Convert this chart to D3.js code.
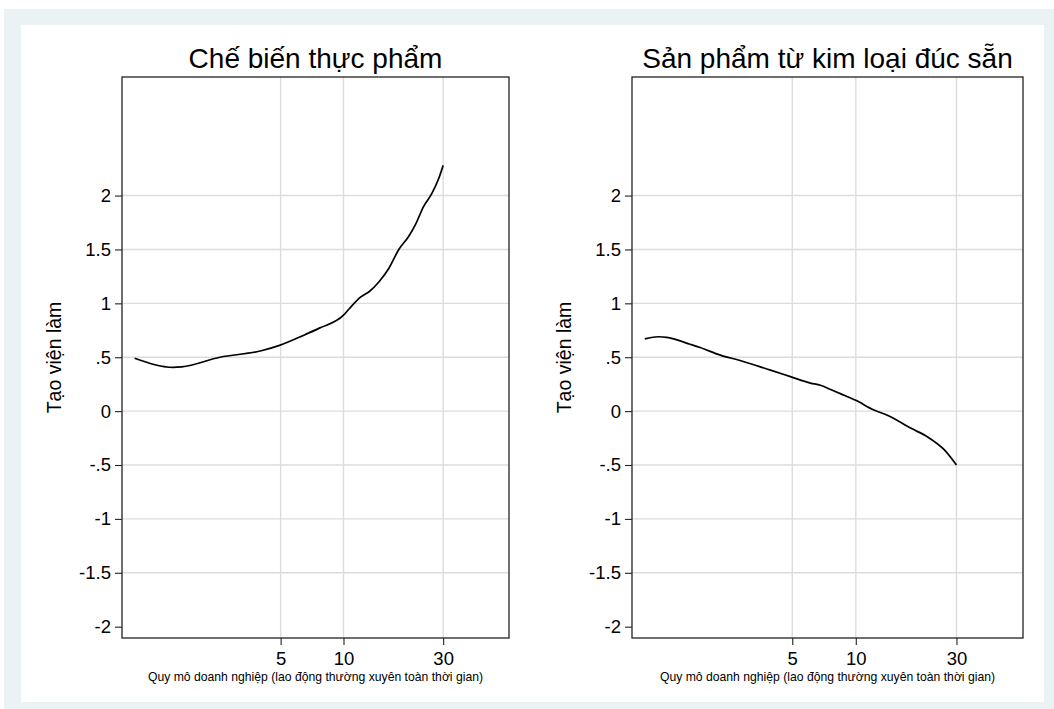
<!DOCTYPE html>
<html>
<head>
<meta charset="utf-8">
<script src="https://cdn.jsdelivr.net/npm/d3@7/dist/d3.min.js"></script>
<style>
  html, body { margin: 0; padding: 0; background: #ffffff; }
  svg { display: block; font-family: "Liberation Sans", Arial, sans-serif; }
</style>
</head>
<body>
<svg id="chart" width="1054" height="709"></svg>
<script>
// ---- Data ----
const panelTitles = ["Chế biến thực phẩm", "Sản phẩm từ kim loại đúc sẵn"];
const yTitle = "Tạo viện làm";
const xTitle = "Quy mô doanh nghiệp (lao động thường xuyên toàn thời gian)";
const yTickValues = [-2, -1.5, -1, -0.5, 0, 0.5, 1, 1.5, 2];
const yTickLabels = ["-2", "-1.5", "-1", "-.5", "0", ".5", "1", "1.5", "2"];
const xTickValues = [5, 10, 30];
const xTickLabels = ["5", "10", "30"];

// Panel 1: food processing
const foodSize  = [1, 1.53, 1.68, 2.56, 4.04, 4.94, 6.38, 7.66, 10, 10.6, 12.1, 13.3, 14.8, 16.5, 18.4, 20.5, 22.1, 24.2, 26.5, 28.6, 30];
const foodValue = [0.49, 0.406, 0.41, 0.50, 0.56, 0.61, 0.70, 0.77, 0.89, 0.945, 1.06, 1.11, 1.20, 1.325, 1.50, 1.62, 1.73, 1.90, 2.02, 2.16, 2.28];

// Panel 2: fabricated metal products
const metalSize  = [1, 1.16, 1.27, 1.64, 1.83, 2.28, 2.83, 3.94, 4.9, 6.1, 6.8, 7.6, 8.5, 10, 12.2, 14.2, 18.3, 21.9, 26.3, 30];
const metalValue = [0.67, 0.69, 0.685, 0.62, 0.59, 0.52, 0.47, 0.38, 0.32, 0.26, 0.24, 0.20, 0.16, 0.10, 0.01, -0.04, -0.16, -0.24, -0.36, -0.50];

const series = [
  { size: foodSize, value: foodValue },
  { size: metalSize, value: metalValue }
];

// ---- Layout ----
const svg = d3.select("#chart");
svg.append("rect").attr("x", 4).attr("y", 9).attr("width", 1050).attr("height", 700).attr("fill", "#EAF2F3");
svg.append("rect").attr("x", 21).attr("y", 25).attr("width", 1023).attr("height", 677).attr("fill", "#ffffff");

const panels = [
  { left: 122, right: 509 },
  { left: 632, right: 1023 }
];
const plotTop = 77, plotBottom = 638;

const y = d3.scaleLinear().domain([-2.105, 3.1]).range([plotBottom, plotTop]);

panels.forEach((p, i) => {
  const x = d3.scaleLog().domain([0.87, 62]).range([p.left, p.right]);
  const g = svg.append("g");

  // gridlines
  g.selectAll(".ygrid").data(yTickValues.filter(v => v > -2))
    .enter().append("line")
    .attr("x1", p.left).attr("x2", p.right)
    .attr("y1", d => y(d)).attr("y2", d => y(d))
    .attr("stroke", "#dcdcdc").attr("stroke-width", 1.4);
  g.selectAll(".xgrid").data(xTickValues)
    .enter().append("line")
    .attr("x1", d => x(d)).attr("x2", d => x(d))
    .attr("y1", plotTop).attr("y2", plotBottom)
    .attr("stroke", "#dcdcdc").attr("stroke-width", 1.4);

  // line
  const pts = series[i].size.map((s, k) => [s, series[i].value[k]]);
  g.append("path").datum(pts)
    .attr("fill", "none").attr("stroke", "#000").attr("stroke-width", 1.7)
    .attr("stroke-linejoin", "round")
    .attr("d", d3.line().curve(d3.curveMonotoneX).x(d => x(d[0])).y(d => y(d[1])));

  // box
  g.append("rect").attr("x", p.left).attr("y", plotTop)
    .attr("width", p.right - p.left).attr("height", plotBottom - plotTop)
    .attr("fill", "none").attr("stroke", "#222").attr("stroke-width", 1.3);

  // y axis
  const yAxis = d3.axisLeft(y).tickValues(yTickValues)
    .tickFormat((d, k) => yTickLabels[k]).tickSize(7).tickPadding(4);
  const ya = g.append("g").attr("transform", `translate(${p.left},0)`).call(yAxis);
  ya.select(".domain").remove();
  ya.selectAll("line").attr("stroke", "#222").attr("stroke-width", 1.1);
  ya.selectAll("text").attr("font-size", 18.5).attr("fill", "#000")
    .attr("font-family", "'Liberation Sans', Arial, sans-serif");

  // x axis
  const xAxis = d3.axisBottom(x).tickValues(xTickValues)
    .tickFormat((d, k) => xTickLabels[k]).tickSize(7).tickPadding(7);
  const xa = g.append("g").attr("transform", `translate(0,${plotBottom})`).call(xAxis);
  xa.select(".domain").remove();
  xa.selectAll("line").attr("stroke", "#222").attr("stroke-width", 1.1);
  xa.selectAll("text").attr("font-size", 18.5).attr("fill", "#000")
    .attr("font-family", "'Liberation Sans', Arial, sans-serif");

  // titles
  g.append("text").attr("x", (p.left + p.right) / 2).attr("y", 68)
    .attr("text-anchor", "middle").attr("font-size", 28).attr("fill", "#000")
    .text(panelTitles[i]);
  g.append("text").attr("x", (p.left + p.right) / 2).attr("y", 681)
    .attr("text-anchor", "middle").attr("font-size", 12.2).attr("fill", "#000")
    .text(xTitle);
  const yc = (plotTop + plotBottom) / 2;
  const yx = p.left - 61;
  g.append("text").attr("transform", `translate(${yx},${yc}) rotate(-90)`)
    .attr("text-anchor", "middle").attr("font-size", 19.5).attr("fill", "#000")
    .text(yTitle);
});
</script>
</body>
</html>
